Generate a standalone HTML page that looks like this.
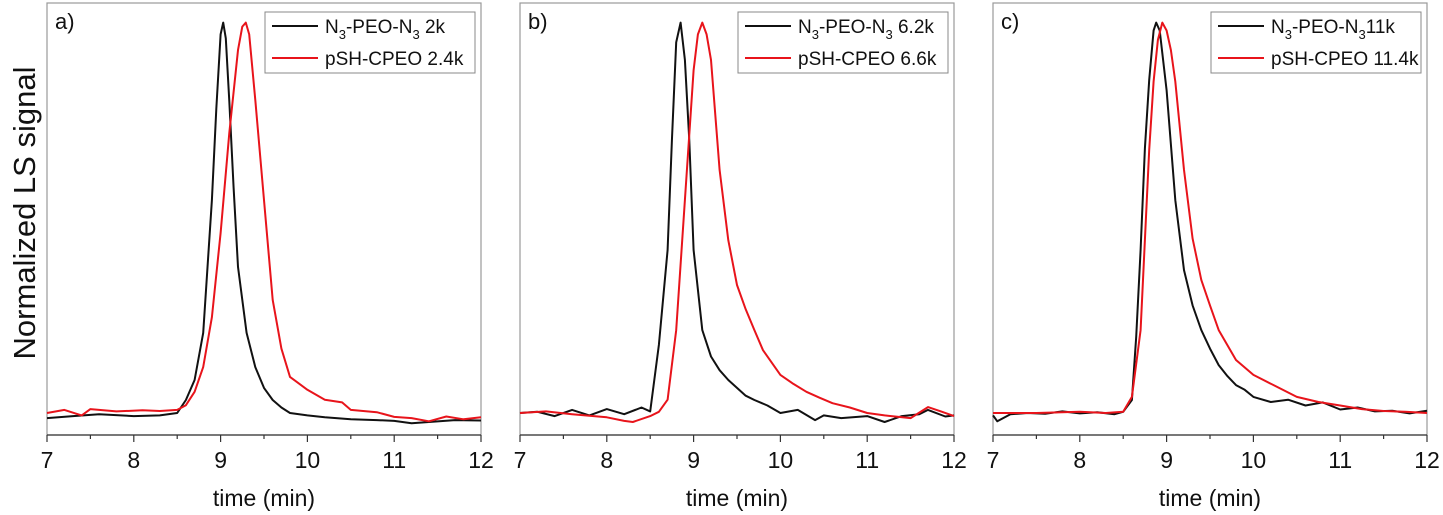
<!DOCTYPE html>
<html><head><meta charset="utf-8"><style>
body{margin:0;background:#fff;}
svg{display:block;font-family:"Liberation Sans",Arial,sans-serif;}
</style></head><body>
<svg id="chart" width="1443" height="515" viewBox="0 0 1443 515" xmlns="http://www.w3.org/2000/svg">
<text transform="translate(35,213) rotate(-90)" text-anchor="middle" font-size="31" fill="#111">Normalized LS signal</text>
</svg>
<script>
// x ticks
const xTicks = [7, 8, 9, 10, 11, 12];
const panelLabels = ["a)", "b)", "c)"];
const legendBlack = [["N","3","-PEO-N","3"," 2k"],["N","3","-PEO-N","3"," 6.2k"],["N","3","-PEO-N","3","11k"]];
const legendRed = ["pSH-CPEO 2.4k", "pSH-CPEO 6.6k", "pSH-CPEO 11.4k"];
// series: times and normalized signal (%)
const aBlackT = [7,7.3,7.6,8,8.3,8.5,8.6,8.7,8.8,8.9,8.95,9.0,9.03,9.06,9.1,9.15,9.2,9.3,9.4,9.5,9.6,9.7,9.8,10,10.2,10.5,10.8,11,11.2,11.4,11.7,12];
const aBlackV = [-0.7,-0.2,0.3,-0.2,0,0.6,3.9,9,21,54.8,78,97,100,96,80,58,37.8,21,12.3,7,3.9,2,0.6,0,-0.5,-1,-1.2,-1.4,-2,-1.7,-1.2,-1.3];
const aRedT = [7,7.2,7.4,7.5,7.8,8.1,8.3,8.5,8.6,8.7,8.8,8.9,9.0,9.1,9.2,9.25,9.29,9.33,9.4,9.5,9.6,9.7,9.8,10,10.2,10.4,10.5,10.8,11,11.2,11.4,11.6,11.8,12];
const aRedV = [0.6,1.4,0,1.6,1,1.3,1.1,1.4,2.6,6,12.3,25,46.4,71.9,93,99,100,97,80.3,54.8,29.4,17,9.8,6.5,4,3.3,1.4,0.8,-0.4,-0.7,-1.5,-0.3,-1,-0.5];
const bBlackT = [7,7.2,7.4,7.6,7.8,8,8.2,8.4,8.5,8.6,8.7,8.75,8.8,8.85,8.9,8.95,9.0,9.1,9.2,9.3,9.4,9.5,9.6,9.7,9.85,10,10.2,10.4,10.5,10.7,11,11.2,11.4,11.6,11.7,11.9,12];
const bBlackV = [0.6,0.9,-0.2,1.4,0,1.6,0.3,2,1,18,42.1,70,95,100,90.5,70,42.1,21.7,15,11.5,9,7,5,3.9,2.5,0.6,1.4,-1.2,0,-0.7,-0.2,-1.7,-0.2,0.3,1.4,-0.3,0];
const bRedT = [7,7.3,7.6,8,8.2,8.3,8.5,8.6,8.7,8.8,8.9,9.0,9.05,9.1,9.15,9.2,9.3,9.4,9.5,9.6,9.7,9.8,10,10.15,10.3,10.45,10.6,10.8,11,11.2,11.5,11.7,11.85,12];
const bRedV = [0.6,1,0.3,-0.5,-1.4,-1.7,-0.2,0.9,4,21.7,54.8,87.9,97,100,97,90.5,62.5,44.6,33.2,27,21.7,16.6,10.3,8,6,4.5,3.1,2,0.6,0,-0.7,2.1,1,-0.2];
const cBlackT = [7,7.05,7.2,7.4,7.6,7.8,8,8.2,8.4,8.5,8.6,8.65,8.7,8.75,8.8,8.85,8.88,8.92,9.0,9.1,9.2,9.3,9.4,9.5,9.6,9.7,9.8,9.9,10,10.2,10.4,10.6,10.8,11,11.2,11.4,11.6,11.8,12];
const cBlackV = [0,-1.5,0.3,0.6,0.4,1,0.5,0.8,0.3,0.9,3.9,20,42.1,68,85.4,98,100,98,82.8,54.8,37,28,21.7,17,12.8,10,7.7,6.5,4.7,3.4,4,2.5,3.3,1.5,2,1,1.2,0.5,1.2];
const cRedT = [7,7.5,8,8.3,8.5,8.6,8.7,8.8,8.85,8.9,8.95,9.0,9.05,9.1,9.2,9.3,9.4,9.5,9.6,9.8,10,10.25,10.5,10.75,11,11.25,11.5,11.75,12];
const cRedV = [0.6,0.6,0.9,0.6,0.9,4.7,21.7,67.6,85,95.6,100,98,93,85,62.5,45,34.5,28,21.7,14.1,10.3,7.5,4.7,3.4,2.5,1.6,1.1,0.9,0.6];

const series = [
  [[aBlackT,aBlackV],[aRedT,aRedV]],
  [[bBlackT,bBlackV],[bRedT,bRedV]],
  [[cBlackT,cBlackV],[cRedT,cRedV]]
];
const svg = document.getElementById('chart');
const NS = 'http://www.w3.org/2000/svg';
const panelX0 = [47, 520, 993], panelW = 434, topY = 3, bottomY = 435;
function mk(tag, attrs){const e=document.createElementNS(NS,tag);for(const k in attrs)e.setAttribute(k,attrs[k]);return e;}

panelLabels.forEach((lab, i) => {
  const x0 = panelX0[i];
  const xs = t => x0 + (t - 7) / 5 * panelW;
  const ys = v => bottomY - (v + 5) / 110 * (bottomY - topY);
  const g = mk('g', {});
  
  
  svg.appendChild(g);
  const frame = mk('rect', {x: x0, y: topY, width: panelW, height: bottomY - topY, fill: 'none', stroke: '#999', 'stroke-width': 1.2});
  
  
  g.appendChild(frame);
  const axis = mk('line', {x1: x0, x2: x0 + panelW, y1: bottomY, y2: bottomY, stroke: '#333', 'stroke-width': 1.3});
  
  
  g.appendChild(axis);
  for (let t = 7; t <= 12.001; t += 0.5) {
    const major = Math.abs(t - Math.round(t)) < 0.01;
    const tk = mk('line', {x1: xs(t), x2: xs(t), y1: bottomY, y2: bottomY + (major ? 7 : 4), stroke: '#333', 'stroke-width': 1.2});
    
    
    g.appendChild(tk);
  }
  xTicks.forEach(t => {
    const tx = mk('text', {x: xs(t), y: 468, 'text-anchor': 'middle', 'font-size': 23, fill: '#111'});
    tx.textContent = t;
    
    
    g.appendChild(tx);
  });
  const xt = mk('text', {x: x0 + panelW / 2, y: 506, 'text-anchor': 'middle', 'font-size': 23, fill: '#111'});
  xt.textContent = 'time (min)';
  
  
  g.appendChild(xt);
  const pl = mk('text', {x: x0 + 8, y: 29, 'font-size': 22, fill: '#111'});
  pl.textContent = lab;
  
  
  g.appendChild(pl);
  ['#111', '#e8141b'].forEach((col, s) => {
    const [T, V] = series[i][s];
    const pts = T.map((t, k) => xs(t).toFixed(1) + ',' + ys(V[k]).toFixed(1)).join(' ');
    const p = mk('polyline', {points: pts, fill: 'none', stroke: col, 'stroke-width': 2, 'stroke-linejoin': 'round'});
    
    
    g.appendChild(p);
  });
  const lx = x0 + 218, ly = 12;
  const lg = mk('g', {});
  
  
  g.appendChild(lg);
  lg.appendChild(mk('rect', {x: lx, y: ly, width: 210, height: 61, fill: '#fff', stroke: '#888', 'stroke-width': 1}));
  const l1 = mk('line', {x1: lx + 7, x2: lx + 53, y1: ly + 14, y2: ly + 14, stroke: '#111', 'stroke-width': 2});
  
  
  lg.appendChild(l1);
  const t1 = mk('text', {x: lx + 60, y: ly + 21, 'font-size': 19, fill: '#111'});
  
  
  legendBlack[i].forEach((part, k) => {
    const sp = mk('tspan', k % 2 === 1 ? {'font-size': 13, dy: 6} : (k > 0 ? {dy: -6} : {}));
    sp.textContent = part;
    t1.appendChild(sp);
  });
  lg.appendChild(t1);
  const l2 = mk('line', {x1: lx + 7, x2: lx + 53, y1: ly + 46, y2: ly + 46, stroke: '#e8141b', 'stroke-width': 2});
  
  
  lg.appendChild(l2);
  const t2 = mk('text', {x: lx + 60, y: ly + 53, 'font-size': 19, fill: '#111'});
  t2.textContent = legendRed[i];
  
  
  lg.appendChild(t2);
});
</script>
</body></html>
